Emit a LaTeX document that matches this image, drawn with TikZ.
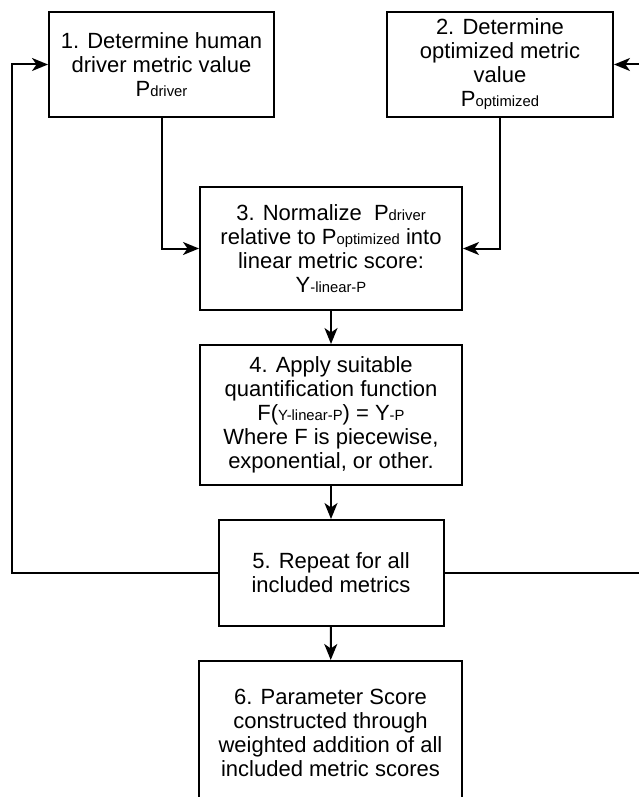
\documentclass[tikz,border=0pt]{standalone}
\usepackage{fontspec}
\setmainfont{Liberation Sans}
\usetikzlibrary{arrows.meta}
\newcommand\smalltxt[1]{{\fontsize{14.8}{14.8}\selectfont #1}}
\begin{document}
\begin{tikzpicture}[x=1pt,y=-1pt,
  box/.style={draw, line width=2pt, inner sep=0pt, align=center,
    font=\fontsize{22}{24}\selectfont},
  arr/.style={line width=2pt, -{Stealth[length=16pt,width=13pt,inset=4.5pt]}},
  ln/.style={line width=2pt}]
\useasboundingbox (0,0) rectangle (639,797);

\node[box, minimum width=225pt, minimum height=105pt] (b1) at (161.5,64.5)
  {1. Determine human\\driver metric value\\P\smalltxt{driver}};
\node[box, minimum width=226pt, minimum height=105pt] (b2) at (500,64.5)
  {2. Determine\\optimized metric\\value\\P\smalltxt{optimized}};
\node[box, minimum width=262pt, minimum height=123pt] (b3) at (331,248.5)
  {3. Normalize\ \ P\smalltxt{driver}\\relative to P\smalltxt{optimized} into\\linear metric score:\\Y\smalltxt{-linear-P}};
\node[box, minimum width=262pt, minimum height=140pt] (b4) at (331,415)
  {4. Apply suitable\\quantification function\\F(\smalltxt{Y-linear-P}) = Y\smalltxt{-P}\\Where F is piecewise,\\exponential, or other.};
\node[box, minimum width=225pt, minimum height=106pt] (b5) at (331,573)
  {5. Repeat for all\\included metrics};
\node[box, minimum width=263pt, minimum height=144pt] (b6) at (330.5,733)
  {6. Parameter Score\\constructed through\\weighted addition of all\\included metric scores};

\coordinate (L) at (12,573);
\coordinate (R) at (660,573);

\draw[arr] (b1.south) |- (b3.west);
\draw[arr] (b2.south) |- (b3.east);
\draw[arr] (b3) -- (b4);
\draw[arr] (b4) -- (b5);
\draw[arr] (b5) -- (b6);
\draw[arr] (b5.west) -- (L) |- (b1.west);
\draw[arr] (b5.east) -- (R) |- (b2.east);
\end{tikzpicture}
\end{document}
